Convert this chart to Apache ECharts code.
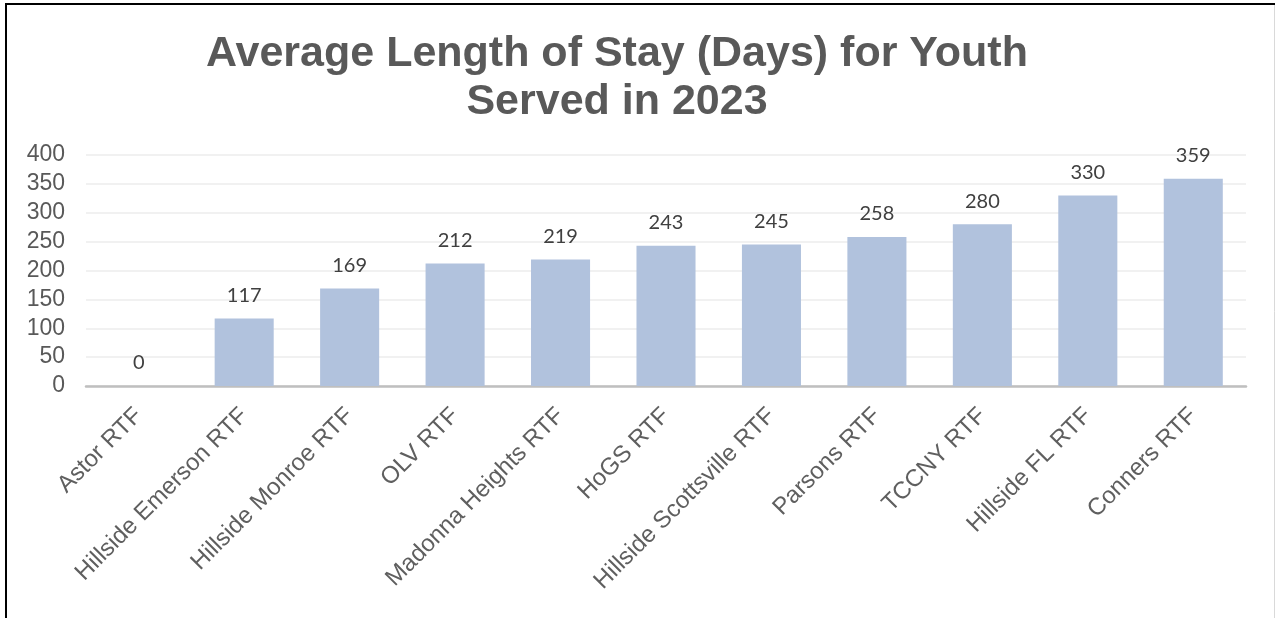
<!DOCTYPE html>
<html>
<head>
<meta charset="utf-8">
<script src="https://cdn.jsdelivr.net/npm/echarts@6/dist/echarts.min.js"></script>
<style>
html,body{margin:0;padding:0;background:#fff;}
#chart{width:1275px;height:618px;}
</style>
</head>
<body>
<div id="chart"></div>
<script>
const titleLines = ['Average Length of Stay (Days) for Youth', 'Served in 2023'];
const categories = ['Astor RTF', 'Hillside Emerson RTF', 'Hillside Monroe RTF', 'OLV RTF', 'Madonna Heights RTF', 'HoGS RTF', 'Hillside Scottsville RTF', 'Parsons RTF', 'TCCNY RTF', 'Hillside FL RTF', 'Conners RTF'];
const values = [0, 117, 169, 212, 219, 243, 245, 258, 280, 330, 359];
const yMin = 0, yMax = 400, yStep = 50;

const chart = echarts.init(document.getElementById('chart'), null, {renderer: 'canvas'});
chart.setOption({
  backgroundColor: '#ffffff',
  animation: false,
  title: {
    text: titleLines.join('\n'),
    left: 612,
    top: 25,
    textAlign: 'center',
    textStyle: {
      fontFamily: 'Liberation Sans, Arial, sans-serif',
      fontSize: 43,
      fontWeight: 'bold',
      color: '#595959',
      lineHeight: 48
    }
  },
  graphic: [
    {type: 'line', shape: {x1: 5, y1: 4, x2: 1275, y2: 4}, style: {stroke: '#000', lineWidth: 2}, silent: true},
    {type: 'line', shape: {x1: 6, y1: 3, x2: 6, y2: 618}, style: {stroke: '#000', lineWidth: 2}, silent: true},
    {type: 'line', shape: {x1: 1274.5, y1: 5, x2: 1274.5, y2: 618}, style: {stroke: '#d9d9d9', lineWidth: 1}, silent: true}
  ],
  grid: {left: 86, right: 29, top: 155, bottom: 232, containLabel: false, outerBoundsMode: 'none'},
  xAxis: {
    type: 'category',
    data: categories,
    axisTick: {show: false},
    axisLine: {show: true, lineStyle: {color: '#bfbfbf', width: 2.5}},
    axisLabel: {
      interval: 0,
      rotate: 45,
      margin: 26,
      fontFamily: 'Liberation Sans, Arial, sans-serif',
      fontSize: 24,
      color: '#5f5f5f'
    }
  },
  yAxis: {
    type: 'value',
    min: yMin,
    max: yMax,
    interval: yStep,
    axisLine: {show: false},
    axisTick: {show: false},
    splitLine: {show: true, lineStyle: {color: '#ececec', width: 1.5}},
    axisLabel: {
      margin: 21,
      fontFamily: 'Liberation Sans, Arial, sans-serif',
      fontSize: 23,
      color: '#595959'
    }
  },
  series: [{
    type: 'bar',
    data: values,
    barWidth: '56%',
    itemStyle: {color: '#b1c2dd'},
    label: {
      show: true,
      position: 'top',
      distance: 13,
      fontFamily: 'Lato, Open Sans, sans-serif',
      fontSize: 20,
      color: '#404040'
    }
  }]
});
</script>
</body>
</html>
